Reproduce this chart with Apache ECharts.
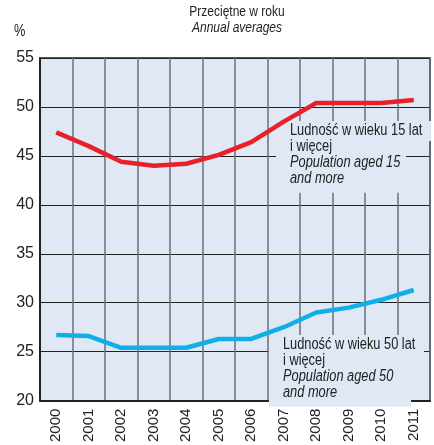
<!DOCTYPE html>
<html>
<head>
<meta charset="utf-8">
<script src="https://cdn.jsdelivr.net/npm/echarts@6/dist/echarts.min.js"></script>
<style>
  html, body { margin: 0; padding: 0; background: #fff; }
  #chart { width: 434px; height: 445px; }
</style>
</head>
<body>
<div id="chart"></div>
<script>
// Values
const years = ['2000', '2001', '2002', '2003', '2004', '2005', '2006', '2007', '2008', '2009', '2010', '2011'];
const aged15 = [47.4, 46.0, 44.4, 44.0, 44.2, 45.1, 46.4, 48.5, 50.4, 50.4, 50.4, 50.7];
const aged50 = [26.7, 26.6, 25.4, 25.4, 25.4, 26.3, 26.3, 27.5, 29.0, 29.5, 30.3, 31.3];
const label15 = ['Ludność w wieku 15 lat', 'i więcej', 'Population aged 15', 'and more'];
const label50 = ['Ludność w wieku 50 lat', 'i więcej', 'Population aged 50', 'and more'];

const FONT = '"Liberation Sans", Arial, sans-serif';
const BG = '#dfe8f4';
const NARROW = 0.8; // the original uses a condensed face
const STEP = 15.7;

// note = mask block (cuts the grid lines) + first-line mask + the four text lines
function note(lines, x, y0, blockW) {
  const out = [
    { type: 'rect', z: 1, shape: { x: x - 8, y: y0 - 2, width: blockW, height: 4 * STEP + 9 }, style: { fill: BG } },
    {
      type: 'text', x: x - 3, y: y0 - 2, scaleX: NARROW, z: 1,
      style: { text: lines[0], font: '16px ' + FONT, fill: 'rgba(0,0,0,0)', backgroundColor: BG, padding: [2, 11, 2, 11] }
    }
  ];
  lines.forEach((t, i) => {
    out.push({
      type: 'text', x: x + 6, y: y0 + i * STEP, scaleX: NARROW, z: 2,
      style: { text: t, font: (i >= 2 ? 'italic ' : '') + '16px ' + FONT, fill: '#222' }
    });
  });
  return out;
}

const chart = echarts.init(document.getElementById('chart'));
chart.setOption({
  animation: false,
  grid: {
    left: 40, right: 4, top: 58, bottom: 41,
    show: true, backgroundColor: BG, borderColor: '#222', borderWidth: 1.5
  },
  graphic: [
    { type: 'text', x: 237, y: 4, scaleX: NARROW, style: { text: 'Przeciętne w roku', font: '15px ' + FONT, fill: '#222', align: 'center' } },
    { type: 'text', x: 237, y: 20, scaleX: NARROW, style: { text: 'Annual averages', font: 'italic 15px ' + FONT, fill: '#222', align: 'center' } },
    { type: 'text', x: 14, y: 24, scaleX: NARROW, style: { text: '%', font: '16px ' + FONT, fill: '#222' } },
    ...note(label15, 284, 123, 130),
    ...note(label50, 277, 337, 142)
  ],
  xAxis: {
    type: 'category',
    data: years,
    boundaryGap: true,
    axisLine: { lineStyle: { color: '#222', width: 2 } },
    axisTick: { show: false },
    axisLabel: { rotate: 90, margin: 8, fontFamily: FONT, fontSize: 15, color: '#222', interval: 0 },
    splitLine: { show: true, interval: 0, lineStyle: { color: '#6b6f78', width: 1.5 } }
  },
  yAxis: {
    type: 'value',
    min: 20, max: 55, interval: 5,
    axisLine: { show: true, lineStyle: { color: '#222', width: 2 } },
    axisTick: { show: false },
    axisLabel: { margin: 6, fontFamily: FONT, fontSize: 16, color: '#222' },
    splitLine: { lineStyle: { color: '#222', width: 1 } }
  },
  series: [
    {
      name: 'aged15', type: 'line', data: aged15, z: 3,
      symbol: 'none', lineStyle: { color: '#e8202a', width: 4.5 }
    },
    {
      name: 'aged50', type: 'line', data: aged50, z: 3,
      symbol: 'none', lineStyle: { color: '#12aee8', width: 4.5 }
    }
  ]
});
</script>
</body>
</html>
